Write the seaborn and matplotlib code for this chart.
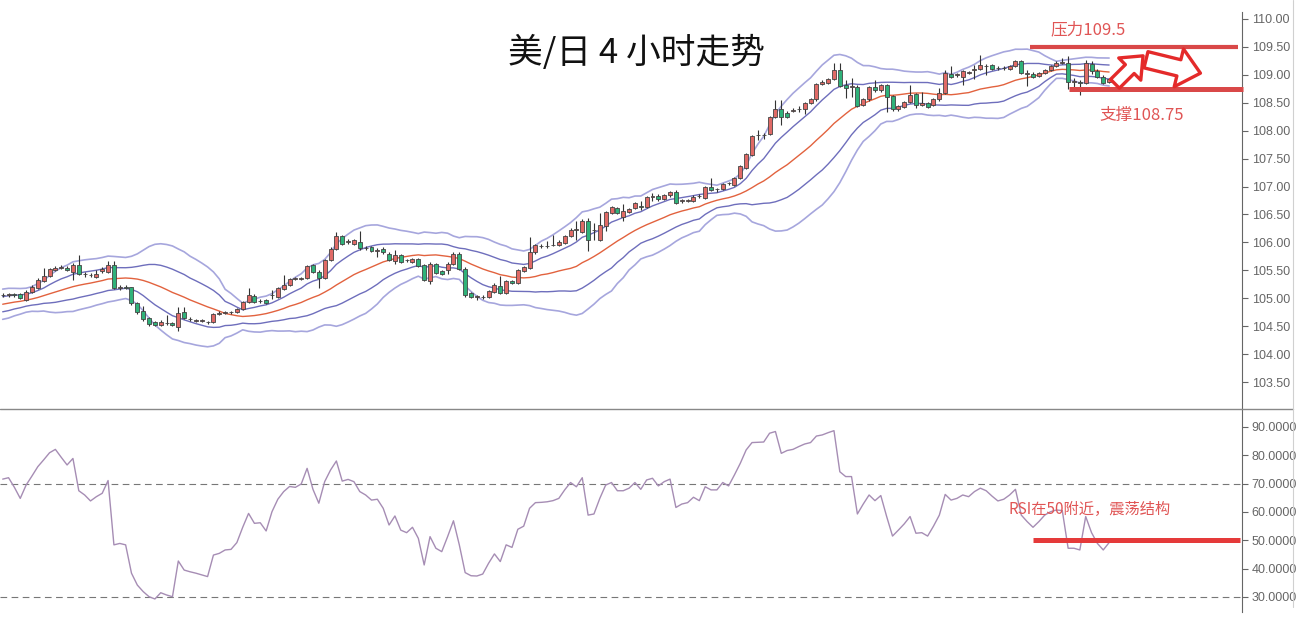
import numpy as np
import pandas as pd
import matplotlib
matplotlib.use('Agg')
import matplotlib.pyplot as plt
import seaborn as sns
from matplotlib.patches import FancyArrowPatch
from matplotlib.lines import Line2D
from matplotlib.ticker import FormatStrFormatter

# ---- 数据：美/日 4小时 K线 (190根) ----
opens = [
    105.05, 105.06, 105.07, 105.07, 104.97, 105.12, 105.18, 105.31, 105.40, 105.50,
    105.55, 105.55, 105.47, 105.60, 105.44, 105.42, 105.38, 105.49, 105.47, 105.60,
    105.19, 105.20, 105.20, 104.91, 104.77, 104.64, 104.58, 104.52, 104.55, 104.55,
    104.49, 104.76, 104.63, 104.60, 104.60, 104.57, 104.57, 104.72, 104.73, 104.75,
    104.75, 104.81, 104.93, 105.04, 104.95, 104.97, 105.05, 105.03, 105.16, 105.24,
    105.35, 105.35, 105.37, 105.59, 105.47, 105.37, 105.68, 105.88, 106.12, 106.01,
    105.98, 106.00, 105.90, 105.91, 105.85, 105.89, 105.80, 105.67, 105.77, 105.68,
    105.65, 105.70, 105.59, 105.30, 105.61, 105.48, 105.50, 105.62, 105.80, 105.53,
    105.09, 105.03, 105.02, 105.02, 105.12, 105.22, 105.10, 105.31, 105.28, 105.49,
    105.55, 105.82, 105.93, 105.93, 105.95, 105.95, 105.99, 106.11, 106.23, 106.19,
    106.39, 106.22, 106.05, 106.29, 106.53, 106.61, 106.46, 106.55, 106.61, 106.65,
    106.64, 106.82, 106.83, 106.78, 106.84, 106.91, 106.75, 106.75, 106.75, 106.83,
    106.79, 106.99, 106.95, 106.95, 107.06, 107.03, 107.15, 107.34, 107.56, 107.92,
    107.92, 107.94, 108.25, 108.38, 108.32, 108.36, 108.38, 108.38, 108.49, 108.56,
    108.84, 108.86, 108.92, 109.09, 108.82, 108.79, 108.79, 108.46, 108.56, 108.78,
    108.72, 108.82, 108.62, 108.38, 108.43, 108.52, 108.66, 108.46, 108.49, 108.46,
    108.56, 108.68, 109.02, 109.00, 108.97, 109.04, 109.09, 109.10, 109.16, 109.18,
    109.12, 109.12, 109.10, 109.16, 109.24, 109.02, 109.02, 108.98, 109.03, 109.09,
    109.16, 109.22, 109.21, 108.88, 108.88, 108.85, 109.20, 109.07, 108.97, 108.88,
]
highs = [
    105.09, 105.10, 105.09, 105.09, 105.15, 105.24, 105.36, 105.55, 105.54, 105.57,
    105.59, 105.58, 105.63, 105.77, 105.47, 105.45, 105.50, 105.56, 105.67, 105.67,
    105.24, 105.23, 105.21, 104.93, 104.87, 104.66, 104.60, 104.61, 104.70, 104.58,
    104.85, 104.85, 104.66, 104.63, 104.63, 104.60, 104.74, 104.78, 104.77, 104.78,
    104.83, 104.95, 105.18, 105.07, 104.98, 104.99, 105.15, 105.20, 105.41, 105.37,
    105.38, 105.38, 105.60, 105.62, 105.50, 105.70, 105.91, 106.19, 106.14, 106.06,
    106.06, 106.21, 105.93, 105.94, 105.90, 105.91, 105.83, 105.86, 105.79, 105.71,
    105.72, 105.72, 105.61, 105.64, 105.63, 105.50, 105.64, 105.82, 105.83, 105.56,
    105.11, 105.06, 105.05, 105.15, 105.27, 105.40, 105.33, 105.33, 105.52, 105.58,
    106.10, 105.97, 105.98, 106.02, 106.14, 106.04, 106.13, 106.25, 106.39, 106.41,
    106.43, 106.35, 106.52, 106.57, 106.65, 106.63, 106.69, 106.61, 106.73, 106.74,
    106.83, 106.88, 106.86, 106.86, 106.92, 106.93, 106.78, 106.78, 106.84, 106.86,
    107.01, 107.15, 106.98, 107.07, 107.09, 107.17, 107.38, 107.60, 107.92, 108.01,
    107.95, 108.27, 108.55, 108.55, 108.35, 108.40, 108.45, 108.51, 108.58, 108.86,
    108.90, 108.94, 109.22, 109.22, 108.91, 108.94, 108.81, 108.58, 108.80, 108.90,
    108.84, 108.84, 108.64, 108.46, 108.54, 108.82, 108.68, 108.70, 108.52, 108.58,
    108.77, 109.08, 109.16, 109.03, 109.09, 109.07, 109.18, 109.35, 109.20, 109.20,
    109.15, 109.15, 109.18, 109.26, 109.26, 109.09, 109.05, 109.05, 109.11, 109.18,
    109.25, 109.30, 109.33, 108.94, 108.91, 109.27, 109.24, 109.10, 108.99, 108.95,
]
lows = [
    105.02, 105.02, 105.03, 104.98, 104.95, 105.10, 105.16, 105.29, 105.38, 105.48,
    105.52, 105.49, 105.33, 105.42, 105.38, 105.38, 105.36, 105.45, 105.45, 105.16,
    105.15, 105.16, 104.88, 104.72, 104.60, 104.50, 104.50, 104.50, 104.52, 104.50,
    104.41, 104.62, 104.60, 104.57, 104.57, 104.54, 104.55, 104.70, 104.71, 104.72,
    104.73, 104.79, 104.91, 104.92, 104.92, 104.89, 104.98, 105.01, 105.14, 105.22,
    105.32, 105.32, 105.35, 105.45, 105.18, 105.35, 105.66, 105.86, 105.96, 105.97,
    105.95, 105.87, 105.87, 105.83, 105.73, 105.80, 105.66, 105.61, 105.63, 105.65,
    105.63, 105.56, 105.30, 105.26, 105.44, 105.41, 105.43, 105.60, 105.50, 105.03,
    105.00, 104.97, 104.99, 105.00, 105.10, 105.08, 105.08, 105.25, 105.26, 105.47,
    105.53, 105.80, 105.90, 105.90, 105.93, 105.93, 105.97, 106.09, 106.05, 106.17,
    105.85, 106.05, 106.03, 106.20, 106.51, 106.51, 106.38, 106.53, 106.59, 106.58,
    106.62, 106.74, 106.75, 106.76, 106.82, 106.68, 106.71, 106.72, 106.72, 106.80,
    106.77, 106.92, 106.90, 106.93, 107.02, 107.01, 107.13, 107.32, 107.54, 107.83,
    107.85, 107.92, 108.23, 108.10, 108.23, 108.33, 108.33, 108.30, 108.47, 108.54,
    108.82, 108.84, 108.90, 108.78, 108.58, 108.61, 108.42, 108.44, 108.54, 108.70,
    108.70, 108.34, 108.36, 108.36, 108.41, 108.50, 108.40, 108.44, 108.40, 108.44,
    108.54, 108.66, 108.95, 108.96, 108.82, 109.01, 108.92, 109.08, 109.00, 109.08,
    109.09, 109.09, 109.08, 109.14, 109.01, 108.80, 108.95, 108.96, 109.01, 109.07,
    109.14, 109.19, 108.74, 108.74, 108.64, 108.83, 109.02, 108.95, 108.84, 108.86,
]
closes = [
    105.06, 105.07, 105.05, 105.00, 105.12, 105.21, 105.33, 105.40, 105.52, 105.54,
    105.56, 105.51, 105.60, 105.44, 105.43, 105.41, 105.44, 105.52, 105.60, 105.18,
    105.20, 105.19, 104.91, 104.75, 104.63, 104.53, 104.52, 104.58, 104.55, 104.52,
    104.74, 104.64, 104.63, 104.61, 104.60, 104.57, 104.71, 104.74, 104.75, 104.75,
    104.81, 104.93, 105.05, 104.94, 104.95, 104.91, 105.06, 105.18, 105.24, 105.35,
    105.35, 105.36, 105.58, 105.47, 105.37, 105.68, 105.89, 106.12, 105.98, 106.01,
    106.04, 105.90, 105.90, 105.85, 105.86, 105.82, 105.68, 105.77, 105.65, 105.68,
    105.70, 105.58, 105.33, 105.62, 105.46, 105.43, 105.62, 105.79, 105.52, 105.06,
    105.02, 105.03, 105.02, 105.13, 105.24, 105.10, 105.31, 105.27, 105.50, 105.56,
    105.83, 105.95, 105.93, 105.93, 105.95, 106.01, 106.11, 106.23, 106.23, 106.39,
    106.04, 106.22, 106.31, 106.55, 106.63, 106.53, 106.57, 106.59, 106.71, 106.63,
    106.81, 106.82, 106.77, 106.84, 106.90, 106.70, 106.75, 106.75, 106.82, 106.83,
    106.99, 106.94, 106.95, 107.05, 107.06, 107.15, 107.36, 107.58, 107.90, 107.92,
    107.92, 108.25, 108.38, 108.25, 108.25, 108.36, 108.38, 108.49, 108.56, 108.84,
    108.88, 108.92, 109.09, 108.80, 108.76, 108.79, 108.44, 108.56, 108.78, 108.72,
    108.82, 108.60, 108.38, 108.44, 108.52, 108.64, 108.46, 108.50, 108.42, 108.56,
    108.68, 109.04, 108.97, 109.00, 109.06, 109.04, 109.09, 109.18, 109.16, 109.10,
    109.12, 109.12, 109.16, 109.24, 109.03, 109.02, 108.97, 109.03, 109.09, 109.16,
    109.21, 109.22, 108.88, 108.88, 108.86, 109.21, 109.06, 108.97, 108.86, 108.92,
]
# 图表左侧之前的收盘价（用于布林带预热，估计值）
hist_close = [104.70, 104.66, 104.73, 104.71, 104.77, 104.80, 104.76, 104.84, 104.88, 104.86,
              104.93, 104.98, 104.95, 105.01, 105.04, 105.01, 105.06, 105.04, 105.07]

# RSI 读数
rsi = [
    71.6, 72.1, 68.7, 64.8, 69.5, 72.7, 76.0, 78.4, 80.9, 82.1,
    79.3, 76.6, 78.9, 67.5, 66.0, 63.9, 65.4, 66.6, 71.1, 48.4,
    48.9, 48.4, 38.4, 34.2, 31.9, 30.1, 29.3, 31.5, 30.7, 30.1,
    42.7, 39.5, 38.9, 38.4, 37.8, 37.2, 44.8, 45.4, 46.6, 46.8,
    49.2, 54.6, 59.5, 56.0, 56.2, 53.3, 60.1, 64.5, 67.2, 69.0,
    68.7, 69.9, 75.4, 68.0, 63.1, 70.7, 74.8, 78.0, 70.9, 71.5,
    70.7, 67.2, 66.0, 64.2, 64.5, 61.3, 55.4, 58.6, 53.6, 52.7,
    54.6, 50.7, 41.3, 51.3, 47.2, 46.0, 51.3, 56.9, 48.4, 38.6,
    37.5, 37.4, 38.1, 41.9, 45.2, 42.5, 48.4, 47.5, 53.9, 55.0,
    61.3, 63.3, 63.4, 63.6, 64.0, 64.8, 67.8, 70.4, 68.9, 72.1,
    58.9, 59.3, 64.8, 69.5, 70.4, 67.5, 67.5, 68.4, 70.4, 68.0,
    71.3, 71.9, 69.2, 70.7, 71.6, 61.6, 62.8, 63.3, 65.2, 64.0,
    68.9, 67.8, 67.8, 70.4, 69.2, 73.1, 77.2, 81.9, 84.5, 84.6,
    84.7, 87.8, 88.4, 80.7, 81.7, 82.1, 83.1, 84.0, 84.5, 86.8,
    87.2, 88.0, 88.7, 74.2, 72.5, 72.5, 59.3, 62.8, 66.0, 64.0,
    65.8, 58.4, 51.5, 53.6, 55.8, 58.4, 52.5, 52.7, 51.5, 55.0,
    58.9, 66.2, 64.2, 64.8, 66.0, 65.4, 67.2, 68.4, 67.5, 65.6,
    63.9, 64.5, 66.0, 68.0, 58.9, 56.6, 54.6, 56.6, 58.9, 60.1,
    60.7, 60.5, 47.2, 47.2, 46.6, 58.4, 52.7, 48.9, 46.6, 49.2,
]

price_ticks = np.arange(103.5, 110.01, 0.5)
rsi_ticks = [30, 40, 50, 60, 70, 80, 90]
resistance = 109.5
support = 108.75
rsi_mid = 50

# ---- 布林带 (20, 1σ / 2σ) ----
df = pd.DataFrame({'open': opens, 'high': highs, 'low': lows, 'close': closes, 'rsi': rsi})
df['idx'] = np.arange(len(df))
full = pd.Series(hist_close + closes)
n0 = len(hist_close)
ma = full.rolling(20).mean().iloc[n0:].values
sd = full.rolling(20).std(ddof=0).iloc[n0:].values
df['mid'] = ma
df['up1'], df['dn1'] = ma + sd, ma - sd
df['up2'], df['dn2'] = ma + 2 * sd, ma - 2 * sd

sns.set_theme(style="white")
plt.rcParams['font.family'] = ['Noto Sans CJK SC', 'DejaVu Sans']

W, H = 1310, 634
fig = plt.figure(figsize=(W / 100, H / 100), dpi=100)
ax = fig.add_axes([0, 1 - 409 / H, 1242 / W, (409 - 12) / H])
ax2 = fig.add_axes([0, 1 - 612 / H, 1242 / W, (612 - 409) / H])

# 蜡烛图
up = df['close'] >= df['open']
body_col = np.where(up, '#e06a66', '#2fb27a')
ax.vlines(df['idx'], df['low'], df['high'], color='#333333', lw=0.8, zorder=2)
ax.bar(df['idx'], np.maximum((df['close'] - df['open']).abs(), 0.006),
       bottom=np.minimum(df['open'], df['close']), width=0.68,
       color=body_col, edgecolor='#444444', linewidth=0.6, zorder=3)

# 布林带线
for col, c, lw in [('up2', '#a6a6dd', 1.2), ('dn2', '#a6a6dd', 1.2),
                   ('up1', '#6e6ebc', 1.0), ('dn1', '#6e6ebc', 1.0),
                   ('mid', '#e2623e', 1.0)]:
    sns.lineplot(data=df, x='idx', y=col, ax=ax, color=c, lw=lw, zorder=1)

# RSI
sns.lineplot(data=df, x='idx', y='rsi', ax=ax2, color='#a68db4', lw=1.0)
for lvl in (70, 30):
    ax2.axhline(lvl, color='#777777', ls=(0, (6, 4)), lw=0.8, zorder=0)

# 坐标轴
for a, lim, ticks, fmt in [(ax, (103.017, 110.125), price_ticks, '%.2f'),
                           (ax2, (24.7, 96.35), rsi_ticks, '%.4f')]:
    a.set_xlim(-0.46, 211.7)
    a.set_ylim(*lim)
    a.set_xticks([])
    a.set_xlabel('')
    a.set_ylabel('')
    a.yaxis.tick_right()
    a.set_yticks(ticks)
    a.yaxis.set_major_formatter(FormatStrFormatter(fmt))
    a.tick_params(axis='y', direction='out', length=4, width=0.8, colors='#666666',
                  labelcolor='#666666', labelsize=9, pad=3)
    for lab in a.get_yticklabels():
        lab.set_fontfamily('Liberation Sans')
    for s in ('top', 'left', 'bottom'):
        a.spines[s].set_visible(False)
    a.spines['right'].set_color('#666666')
    a.spines['right'].set_linewidth(0.8)
    a.set_facecolor('none')

# 分隔线与外框
fig.add_artist(Line2D([0, 1293 / W], [1 - 409 / H] * 2, color='#888888', lw=1.0))
fig.add_artist(Line2D([1293 / W] * 2, [1 - 607 / H, 1], color='#d0d0d0', lw=0.8))

# 标题
fig.text(637 / W, 1 - 53 / H, '美/日 4 小时走势', ha='center', va='center',
         fontsize=25, color='#111111', fontweight='light')

# 压力 / 支撑
red = '#d94848'
ax.hlines(resistance, 175.5, 211.0, color=red, lw=3.0, zorder=5, clip_on=False)
ax.hlines(support, 182.2, 211.9, color=red, lw=3.6, zorder=5, clip_on=False)
fig.text(1088 / W, 1 - 30 / H, '压力109.5', ha='center', va='center', fontsize=12, color='#e05555')
fig.text(1142 / W, 1 - 115 / H, '支撑108.75', ha='center', va='center', fontsize=12, color='#e05555')

# 箭头
arr_red = '#e42a2a'
a1 = FancyArrowPatch((190.0, 108.84), (194.8, 109.34),
                     arrowstyle='simple,head_length=0.9,head_width=1.5,tail_width=0.6',
                     mutation_scale=15, fc='white', ec=arr_red, lw=2.4,
                     shrinkA=0, shrinkB=0, zorder=6)
a2 = FancyArrowPatch((195.3, 109.27), (204.6, 109.03),
                     arrowstyle='simple,head_length=0.8,head_width=1.4,tail_width=0.6',
                     mutation_scale=20, fc='white', ec=arr_red, lw=2.4,
                     shrinkA=0, shrinkB=0, zorder=6)
ax.add_patch(a1)
ax.add_patch(a2)

# RSI 注释
ax2.hlines(rsi_mid, 176.0, 211.4, color='#e53a3a', lw=3.6, zorder=5)
fig.text(1090 / W, 1 - 509 / H, 'RSI在50附近，震荡结构', ha='center', va='center',
         fontsize=11, color='#e05555')

fig.savefig('out.png', dpi=100, facecolor='white')
